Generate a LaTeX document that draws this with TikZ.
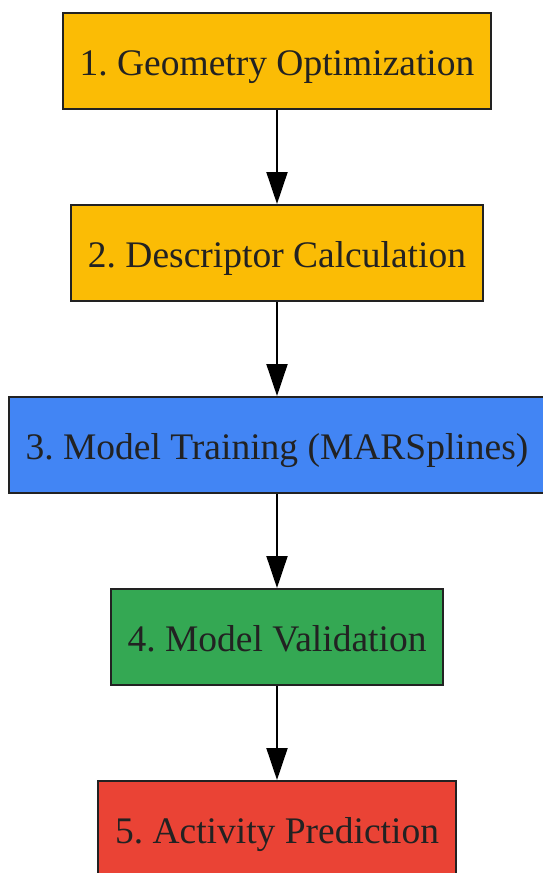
\documentclass[tikz,border=0pt]{standalone}
\usepackage{fontspec}
\setmainfont{Liberation Serif}
\usetikzlibrary{positioning, arrows.meta}
\frenchspacing

\definecolor{stepYellow}{HTML}{FBBC05}
\definecolor{stepBlue}{HTML}{4285F4}
\definecolor{stepGreen}{HTML}{34A853}
\definecolor{stepRed}{HTML}{EA4335}
\definecolor{edgeGray}{HTML}{222222}

\tikzset{
	stagebox/.style = {draw = edgeGray, line width = 2pt, text = edgeGray,
		minimum height = 96pt, inner xsep = 17pt,
		text height = 30pt, text depth = 2pt,
		font = \fontsize{37.5}{44}\selectfont},
	flow/.style = {line width = 2pt, -{Triangle[length = 32pt, width = 21pt]}}
}

\begin{document}
\begin{tikzpicture}[x = 1pt, y = 1pt, node distance = 94pt]
			\useasboundingbox (0,0) rectangle (542,-873);

			\begin{scope}
				\node [stagebox, fill = stepYellow] (geom) at (277,-61) {1. Geometry Optimization};
				\node [stagebox, fill = stepYellow, below = of geom] (desc) {2. Descriptor Calculation};
				\node [stagebox, fill = stepBlue, below = of desc] (train) {3. Model Training (MARSplines)};
				\node [stagebox, fill = stepGreen, below = of train] (valid) {4. Model Validation};
				\node [stagebox, fill = stepRed, below = of valid] (pred) {5. Activity Prediction};
			\end{scope}

			\begin{scope}[flow]
				\draw (geom) -- (desc);
				\draw (desc) -- (train);
				\draw (train) -- (valid);
				\draw (valid) -- (pred);
			\end{scope}
		\end{tikzpicture}
\end{document}
